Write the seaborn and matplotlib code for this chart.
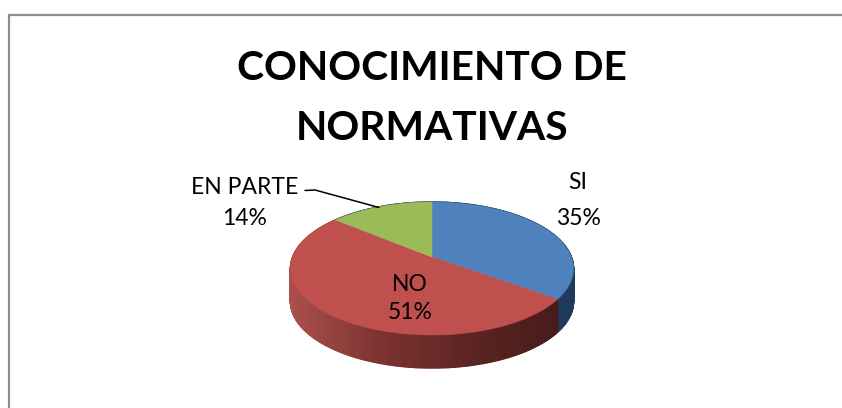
import numpy as np
import matplotlib
matplotlib.use('Agg')
import matplotlib.pyplot as plt
import seaborn as sns

sns.set_theme(style='white')
plt.rcParams['font.family'] = ['Lato', 'DejaVu Sans']

# datos
categorias = ['SI', 'NO', 'EN PARTE']
porcentajes = [35, 51, 14]
titulo = 'CONOCIMIENTO DE\nNORMATIVAS'

colores = ['#4f81bd', '#c0504d', '#9bbb59']
borde_azul = '#1f3a5c'
pared_roja = sns.blend_palette(['#a94f4c', '#7b3230', '#5c2422', '#471b1a'], 60)

# pie en perspectiva, en pixeles de la imagen
cx, cy = 432, 257
ax_r, ay_r, k = 139.4, 64.5, 0.173
grosor = 33


def proyectar(theta):
    u, v = np.cos(np.radians(theta)), np.sin(np.radians(theta))
    w = 1 + k * v
    return cx + ax_r * u / w, cy - ay_r * v / w


fig = plt.figure(figsize=(8.42, 4.08), dpi=100)
ax = fig.add_axes([0, 0, 1, 1])
wedges, _ = ax.pie(porcentajes, startangle=90, counterclock=False, colors=colores)
angulos = [(w.theta1, w.theta2) for w in wedges]
for w in wedges:
    w.remove()
ax.set_aspect('auto')
ax.set_xlim(0, 842)
ax.set_ylim(408, 0)
ax.axis('off')

# marco
ax.plot([8.5, 8.5, 842], [408, 14.5, 14.5], color='#8c8c8c', lw=1.6, solid_joinstyle='miter')

# pared lateral
for i, (t1, t2) in enumerate(angulos):
    th = np.linspace(t1, t2, int(t2 - t1) * 2 + 2)
    x, y = proyectar(th)
    for j in range(len(th) - 1):
        xs = [x[j], x[j + 1], x[j + 1], x[j]]
        ys = [y[j], y[j + 1], y[j + 1] + grosor, y[j] + grosor]
        if i == 1:
            f = np.clip((x[j] - 291) / (559 - 291), 0, 1)
            c = pared_roja[int(f * 59)]
        else:
            c = borde_azul
        ax.fill(xs, ys, color=c, lw=1.0, zorder=2)

# cara superior
for (t1, t2), c in zip(angulos, colores):
    x, y = proyectar(np.linspace(t1, t2, 200))
    ax.fill(np.r_[cx, x], np.r_[cy, y], color=c, lw=0.4, zorder=3)

fig.text(432 / 842, 1 - 98.5 / 408, titulo, ha='center', va='center', fontsize=29.3,
         fontweight='bold', color='black', linespacing=1.75)

# etiquetas
pos_etiquetas = [(578, 200.5), (410, 298.5), (245, 203)]
interlineas = [1.9, 1.45, 1.62]
for nombre, valor, (px, py), ls in zip(categorias, porcentajes, pos_etiquetas, interlineas):
    ax.text(px, py, f'{nombre}\n{valor}%', ha='center', va='center', fontsize=16.5,
            color='black', linespacing=ls, zorder=5)

# linea guia
ax.plot([305, 315, 379], [190.5, 190, 207.5], color='black', lw=1.1, zorder=5)

fig.savefig('out.png', dpi=100, facecolor='white')
